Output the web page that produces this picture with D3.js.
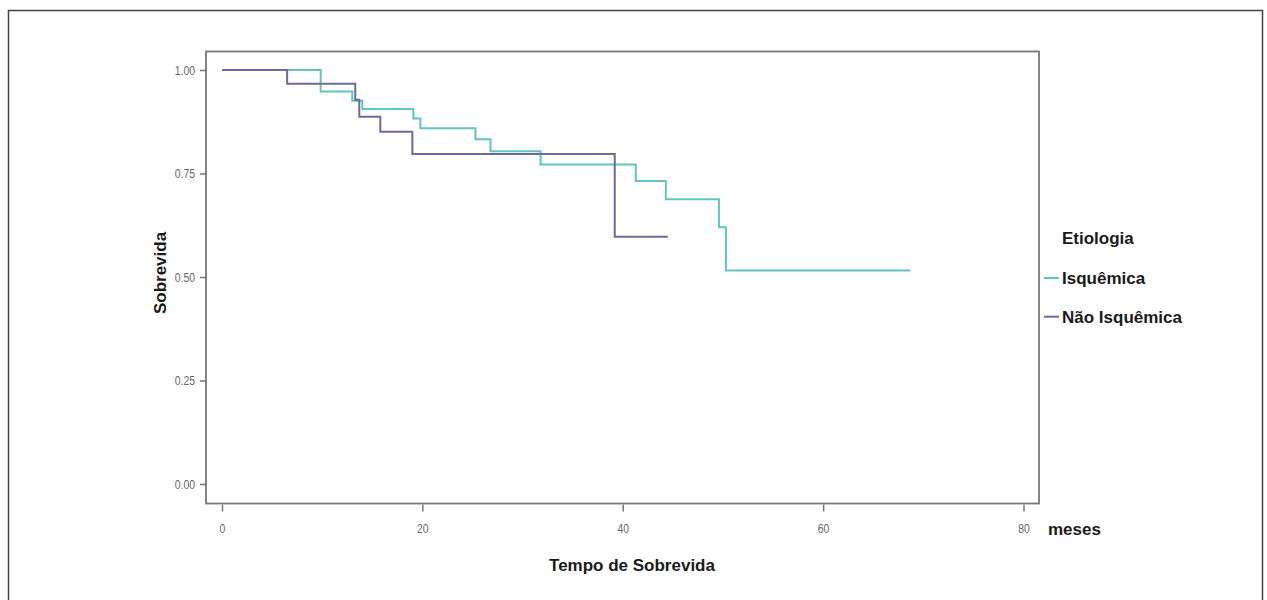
<!DOCTYPE html>
<html>
<head>
<meta charset="utf-8">
<script src="https://cdn.jsdelivr.net/npm/d3@7"></script>
<style>
  body { margin: 0; background: #fff; }
  .tick text { font-family: "Liberation Sans", Arial, sans-serif; font-size: 13px; fill: #666; }
  .lbl { font-family: "Liberation Sans", Arial, sans-serif; font-weight: bold; font-size: 17px; fill: #1a1a1a; }
</style>
</head>
<body>
<div id="draw"></div>
<script>
// curvas de Kaplan-Meier
var isqTempo  = [0, 9.85, 13.0, 14.0, 19.1, 19.8, 25.3, 26.8, 31.8, 41.3, 44.3, 49.6, 50.3, 68.7];
var isqSobrev = [1, 0.948, 0.926, 0.906, 0.883, 0.859, 0.833, 0.804, 0.772, 0.732, 0.688, 0.620, 0.516, 0.516];
var naoTempo  = [0, 6.5, 13.3, 13.7, 15.8, 19.0, 39.2, 44.5];
var naoSobrev = [1, 0.967, 0.928, 0.887, 0.851, 0.797, 0.597, 0.597];

var xTicks = [0, 20, 40, 60, 80];
var yTicks = [0, 0.25, 0.5, 0.75, 1];
var grupos = ["Isquêmica", "Não Isquêmica"];
var cores = ["#62c4c0", "#6b6b9c"];

var svg = d3.select('#draw').append('svg')
    .attr('width', 1267).attr('height', 600);

// moldura externa
svg.append('rect')
    .attr('x', 8.5).attr('y', 10.5).attr('width', 1254).attr('height', 600)
    .attr('fill', 'none').attr('stroke', '#444').attr('stroke-width', 1.5);

var x = d3.scaleLinear().domain([0, 80]).range([222, 1023.5]);
var y = d3.scaleLinear().domain([0, 1]).range([484, 70]);

// painel
svg.append('rect')
    .attr('x', 206).attr('y', 51.5).attr('width', 833).attr('height', 452)
    .attr('fill', 'none').attr('stroke', '#777').attr('stroke-width', 1.8);

var xAxis = svg.append('g')
    .attr('transform', 'translate(0,504.5)')
    .call(d3.axisBottom(x).tickValues(xTicks).tickSize(7).tickPadding(12).tickFormat(d3.format('d')));
xAxis.select('.domain').remove();
xAxis.selectAll('.tick line').attr('stroke', '#777').attr('stroke-width', 1.5);
xAxis.selectAll('.tick text').attr('transform', 'scale(0.8,1)');

var yAxis = svg.append('g')
    .attr('transform', 'translate(206,0)')
    .call(d3.axisLeft(y).tickValues(yTicks).tickSize(6).tickPadding(5).tickFormat(d3.format('.2f')));
yAxis.select('.domain').remove();
yAxis.selectAll('.tick line').attr('stroke', '#777').attr('stroke-width', 1.5);
yAxis.selectAll('.tick text').attr('x', -11 / 0.8).attr('transform', 'scale(0.8,1)');

var line = d3.line()
    .x(function(d){ return x(d[0]); })
    .y(function(d){ return y(d[1]); })
    .curve(d3.curveStepAfter);

var series = [d3.zip(isqTempo, isqSobrev), d3.zip(naoTempo, naoSobrev)];

svg.selectAll('path.km')
    .data(series)
    .enter()
    .append('path')
    .attr('class', 'km')
    .attr('d', line)
    .attr('fill', 'none')
    .attr('stroke', function(d, i){ return cores[i]; })
    .attr('stroke-width', 2);

// titulos dos eixos
svg.append('text').attr('class', 'lbl')
    .attr('transform', 'translate(166,273) rotate(-90)')
    .attr('text-anchor', 'middle')
    .text('Sobrevida');
svg.append('text').attr('class', 'lbl')
    .attr('x', 632).attr('y', 571)
    .attr('text-anchor', 'middle')
    .text('Tempo de Sobrevida');
svg.append('text').attr('class', 'lbl')
    .attr('x', 1048).attr('y', 535)
    .text('meses');

// legenda
svg.append('text').attr('class', 'lbl')
    .attr('x', 1062).attr('y', 244)
    .text('Etiologia');
var leg = svg.selectAll('g.leg')
    .data(grupos)
    .enter()
    .append('g')
    .attr('class', 'leg')
    .attr('transform', function(d, i){ return 'translate(0,' + (284 + i * 38.7) + ')'; });
leg.append('line')
    .attr('x1', 1044).attr('x2', 1059).attr('y1', -6).attr('y2', -6)
    .attr('stroke', function(d, i){ return cores[i]; })
    .attr('stroke-width', 2);
leg.append('text').attr('class', 'lbl')
    .attr('x', 1062).attr('y', 0)
    .text(function(d){ return d; });
</script>
</body>
</html>
